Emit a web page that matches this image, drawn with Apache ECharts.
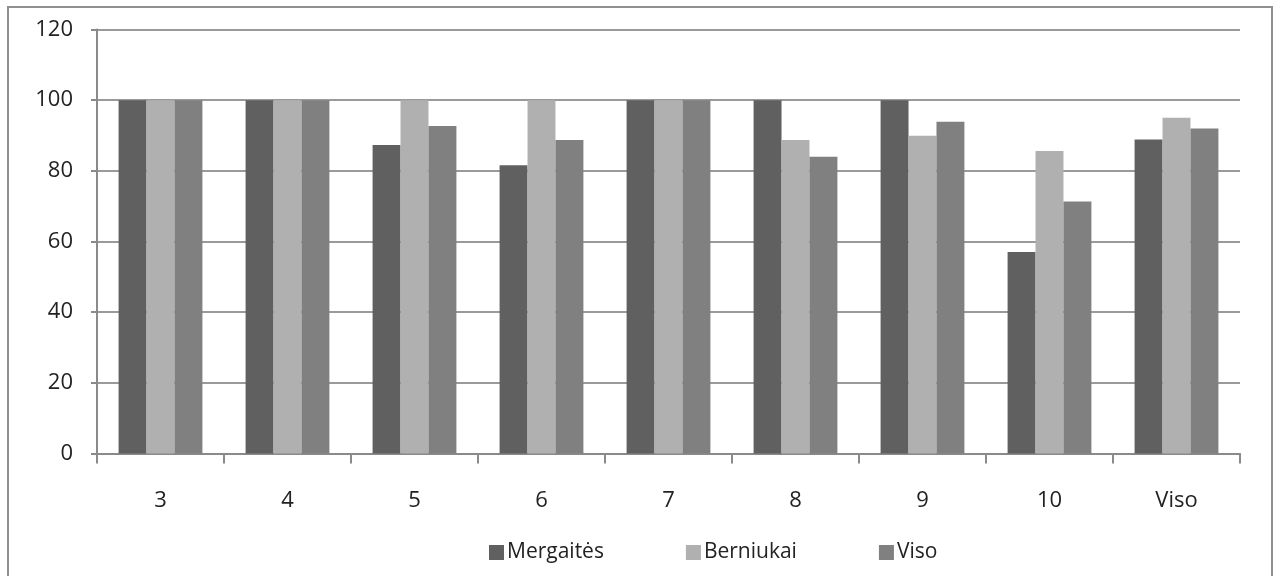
<!DOCTYPE html>
<html><head><meta charset="utf-8">
<script src="https://cdn.jsdelivr.net/npm/echarts@6/dist/echarts.min.js"></script>
<style>html,body{margin:0;padding:0;background:#fff;}#c{width:1274px;height:576px;}</style>
</head><body><div id="c"></div>
<script>
var categories = ['3','4','5','6','7','8','9','10','Viso'];
var mergaites = [100,100,87.3,81.6,100,100,100,57.0,88.9];
var berniukai = [100,100,100,100,100,88.7,89.9,85.6,95.0];
var viso = [100,100,92.7,88.7,100,84.0,93.9,71.3,92.0];
var yTicks = {min:0,max:120,interval:20};
var font = '"Open Sans", sans-serif';
var chart = echarts.init(document.getElementById('c'));
chart.setOption({
  animation:false,
  backgroundColor:'#fff',
  graphic:[{type:'rect',shape:{x:8,y:7,width:1264,height:590},style:{fill:'none',stroke:'#8f8f8f',lineWidth:2},silent:true}],
  grid:{left:97,right:34,top:29.5,bottom:122.5},
  legend:{top:537,left:484,itemWidth:15,itemHeight:15,itemGap:82,icon:'rect',
    textStyle:{fontFamily:font,fontSize:21,color:'#222',padding:[0,0,0,-2]},
    data:['Mergaitės','Berniukai','Viso']},
  xAxis:{type:'category',data:categories,
    axisLine:{lineStyle:{color:'#8a8a8a',width:2}},
    axisTick:{show:true,length:10,lineStyle:{color:'#8a8a8a',width:2}},
    axisLabel:{fontFamily:font,fontSize:22,color:'#222',margin:36}},
  yAxis:{type:'value',min:yTicks.min,max:yTicks.max,interval:yTicks.interval,
    axisLine:{show:true,lineStyle:{color:'#8a8a8a',width:2}},
    axisTick:{show:true,length:6,lineStyle:{color:'#8a8a8a',width:2}},
    splitLine:{lineStyle:{color:'#9a9a9a',width:2}},
    axisLabel:{fontFamily:font,fontSize:22,color:'#222',margin:24}},
  series:[
    {name:'Mergaitės',type:'bar',data:mergaites,barGap:'0%',barCategoryGap:'34%',itemStyle:{color:'#606060'}},
    {name:'Berniukai',type:'bar',data:berniukai,barGap:'0%',barCategoryGap:'34%',itemStyle:{color:'#b0b0b0'}},
    {name:'Viso',type:'bar',data:viso,barGap:'0%',barCategoryGap:'34%',itemStyle:{color:'#808080'}}
  ]
});
</script></body></html>
